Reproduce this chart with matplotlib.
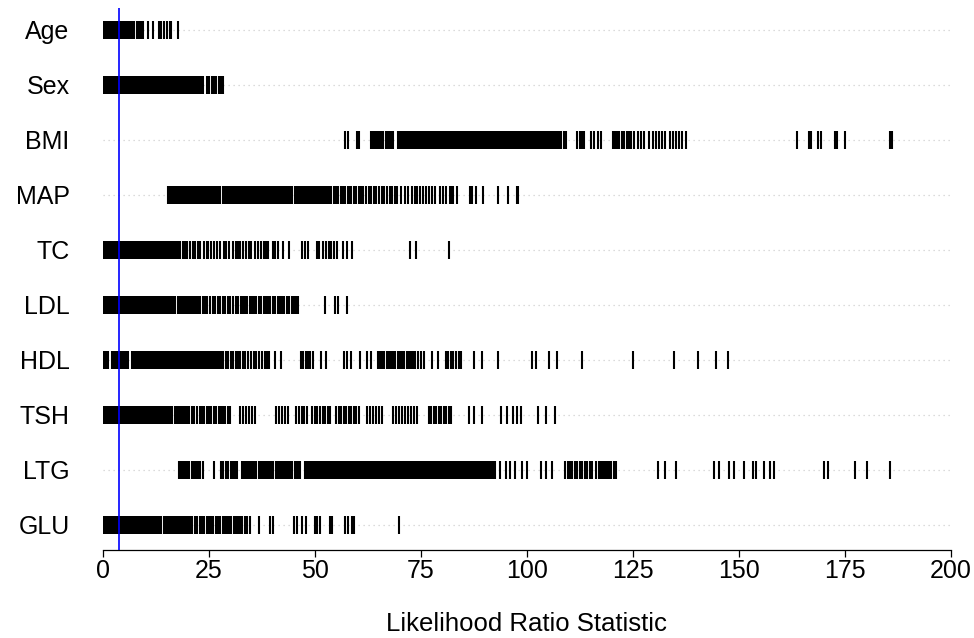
import numpy as np
import matplotlib
matplotlib.use("Agg")
import matplotlib.pyplot as plt

plt.rcParams["font.family"] = ["Liberation Sans", "DejaVu Sans"]

# likelihood ratio statistics per variable, one list per row
age = [0.1, 0.3, 0.5, 0.7, 0.9, 1.1, 1.3, 1.5, 1.8, 2.0, 2.2, 2.4, 2.7, 2.9, 3.1, 3.3, 3.6, 3.8,
       4.0, 4.2, 4.5, 4.7, 4.9, 5.2, 5.4, 5.6, 5.9, 6.1, 6.4, 6.9, 7.4, 8.0, 8.3, 8.7, 9.1, 9.4,
       10.7, 11.7, 13.3, 13.7, 14.4, 15.2, 15.8, 16.0, 17.6]
sex = [0.1, 0.4, 0.7, 1.1, 1.4, 1.8, 2.1, 2.5, 2.8, 3.2, 3.5, 3.9, 4.2, 4.6, 4.9, 5.3, 5.6, 6.0,
       6.3, 6.7, 7.0, 7.4, 7.7, 8.1, 8.4, 8.8, 9.1, 9.5, 9.8, 10.2, 10.5, 10.9, 11.2, 11.6, 11.9,
       12.3, 12.6, 13.0, 13.3, 13.7, 14.0, 14.4, 14.7, 15.1, 15.4, 15.8, 16.1, 16.5, 16.8, 17.2,
       17.5, 17.9, 18.2, 18.6, 18.9, 19.3, 19.6, 20.1, 20.4, 20.8, 21.1, 21.5, 21.8, 22.2, 22.5,
       22.9, 23.2, 23.7, 24.5, 25.1, 25.7, 26.2, 26.7, 27.3, 27.8, 28.4]
bmi = [57.2, 57.7, 59.9, 60.3, 63.3, 63.7, 64.2, 64.6, 65.1, 65.5, 66.0, 66.7, 67.2, 67.6, 68.1,
       68.5, 69.7, 70.1, 70.5, 70.9, 71.3, 71.6, 72.0, 72.4, 72.8, 73.2, 73.5, 73.9, 74.3, 74.7,
       75.1, 75.4, 75.8, 76.2, 76.6, 77.0, 77.3, 77.7, 78.1, 78.5, 78.9, 79.2, 79.6, 80.0, 80.4,
       80.8, 81.1, 81.5, 81.9, 82.3, 82.7, 83.0, 83.4, 83.8, 84.2, 84.6, 84.9, 85.3, 85.7, 86.1,
       86.5, 86.8, 87.2, 87.6, 88.0, 88.4, 88.7, 89.1, 89.5, 89.9, 90.3, 90.6, 91.0, 91.4, 91.8,
       92.2, 92.5, 92.9, 93.3, 93.7, 94.1, 94.4, 94.8, 95.2, 95.6, 96.0, 96.3, 96.7, 97.1, 97.5,
       97.9, 98.2, 98.6, 99.0, 99.4, 99.8, 100.1, 100.5, 100.9, 101.3, 101.7, 102.0, 102.4,
       102.8, 103.2, 103.6, 103.9, 104.3, 104.7, 105.1, 105.5, 105.8, 106.2, 106.6, 107.0,
       107.4, 107.7, 108.1, 108.7, 109.1, 111.9, 112.4, 112.9, 113.4, 115.2, 115.9, 116.7,
       117.5, 120.2, 120.7, 121.3, 121.8, 122.4, 122.9, 123.5, 124.0, 124.6, 125.2, 126.1,
       126.9, 127.6, 128.8, 129.7, 130.4, 131.2, 131.9, 132.5, 133.8, 134.4, 135.1, 135.8,
       136.5, 137.6, 163.6, 166.5, 166.9, 168.7, 169.4, 172.6, 173.1, 175.1, 185.7, 186.2]
map_ = [15.4, 15.8, 16.2, 16.6, 17.0, 17.4, 17.8, 18.2, 18.6, 19.0, 19.4, 19.8, 20.2, 20.6, 21.0,
        21.4, 21.8, 22.2, 22.6, 23.0, 23.4, 23.8, 24.2, 24.6, 25.0, 25.4, 25.8, 26.2, 26.6, 27.0,
        27.4, 27.7, 28.3, 28.7, 29.1, 29.5, 29.9, 30.3, 30.7, 31.1, 31.5, 31.9, 32.3, 32.7, 33.1,
        33.5, 33.9, 34.3, 34.7, 35.1, 35.5, 35.9, 36.3, 36.7, 37.1, 37.5, 37.9, 38.3, 38.7, 39.1,
        39.5, 39.9, 40.3, 40.7, 41.1, 41.5, 41.9, 42.3, 42.7, 43.1, 43.5, 43.9, 44.3, 44.7, 45.2,
        45.6, 46.1, 46.5, 47.0, 47.4, 47.9, 48.3, 48.8, 49.2, 49.7, 50.1, 50.6, 51.0, 51.5, 51.9,
        52.4, 52.8, 53.4, 53.9, 54.5, 55.0, 55.4, 56.1, 56.6, 57.0, 57.7, 58.2, 58.6, 59.3, 59.8,
        60.3, 60.9, 61.4, 62.0, 62.7, 63.2, 63.9, 64.5, 65.0, 65.8, 66.3, 67.0, 67.6, 68.2, 68.8,
        69.3, 70.4, 71.2, 71.9, 72.8, 73.6, 74.0, 74.7, 75.5, 76.1, 76.9, 77.6, 78.3, 79.6, 80.3,
        81.0, 81.8, 82.2, 82.6, 83.4, 86.6, 87.0, 88.1, 89.7, 93.2, 95.6, 97.6, 97.9]
tc = [0.1, 0.5, 0.9, 1.3, 1.7, 2.1, 2.5, 2.9, 3.3, 3.7, 4.1, 4.5, 4.9, 5.3, 5.7, 6.1, 6.5, 6.9,
      7.3, 7.7, 8.1, 8.5, 8.9, 9.3, 9.7, 10.1, 10.5, 10.9, 11.3, 11.7, 12.1, 12.5, 12.9, 13.3,
      13.7, 14.1, 14.5, 14.9, 15.3, 15.7, 16.1, 16.5, 16.9, 17.3, 17.7, 18.2, 18.8, 19.3, 19.9,
      20.6, 21.2, 21.7, 22.5, 23.0, 23.8, 24.5, 24.8, 25.4, 26.3, 27.0, 27.6, 28.5, 29.1, 29.8,
      30.6, 31.4, 31.9, 32.3, 33.1, 33.7, 34.4, 35.0, 35.8, 36.5, 37.2, 37.9, 38.5, 39.0, 40.0,
      40.6, 41.3, 42.5, 43.9, 47.0, 47.6, 48.4, 50.4, 51.0, 51.8, 52.5, 53.2, 53.9, 54.5, 55.1,
      56.7, 57.5, 58.7, 72.4, 73.8, 81.6]
ldl = [0.1, 0.5, 0.9, 1.3, 1.7, 2.1, 2.5, 2.9, 3.3, 3.7, 4.1, 4.5, 4.9, 5.3, 5.7, 6.1, 6.5, 6.9,
       7.3, 7.7, 8.1, 8.5, 8.9, 9.3, 9.7, 10.1, 10.5, 10.9, 11.3, 11.7, 12.2, 12.6, 13.1, 13.5,
       14.0, 14.4, 14.9, 15.3, 15.8, 16.2, 16.7, 17.1, 17.6, 18.0, 18.5, 18.9, 19.4, 19.8, 20.3,
       20.7, 21.2, 21.6, 22.1, 22.5, 22.9, 23.5, 24.1, 24.6, 25.3, 25.9, 26.4, 27.1, 27.7, 28.2,
       28.9, 29.5, 30.0, 30.7, 31.3, 31.8, 32.5, 33.1, 33.5, 34.0, 34.6, 35.1, 35.7, 36.2, 36.8,
       37.3, 37.9, 38.4, 39.0, 39.5, 40.1, 40.6, 41.2, 41.7, 42.3, 42.8, 43.4, 43.9, 44.5, 45.0,
       45.6, 46.1, 52.4, 54.7, 55.5, 57.5]
hdl = [0.1, 0.5, 0.9, 1.3, 2.2, 2.6, 3.0, 3.4, 3.8, 4.2, 4.6, 5.0, 5.4, 5.8, 6.9, 7.3, 7.7, 8.1,
       8.5, 8.9, 9.3, 9.7, 10.1, 10.5, 10.9, 11.3, 11.7, 12.1, 12.5, 12.9, 13.3, 13.7, 14.1, 14.5,
       14.9, 15.3, 15.7, 16.1, 16.5, 16.9, 17.3, 17.7, 18.1, 18.5, 18.9, 19.3, 19.7, 20.1, 20.5,
       20.9, 21.3, 21.7, 22.1, 22.5, 22.9, 23.3, 23.7, 24.1, 24.5, 24.9, 25.3, 25.7, 26.1, 26.5,
       26.9, 27.3, 27.8, 28.4, 29.0, 29.5, 30.1, 30.7, 31.3, 31.8, 32.4, 33.0, 33.5, 34.1, 35.0,
       35.6, 36.2, 36.9, 37.5, 38.2, 38.6, 39.1, 40.5, 42.0, 46.6, 47.2, 47.8, 48.3, 48.9, 49.5,
       51.4, 52.7, 56.8, 57.6, 58.6, 60.6, 62.2, 63.2, 64.8, 65.3, 65.8, 66.4, 66.9, 67.4, 67.9,
       68.5, 69.0, 69.5, 70.0, 70.6, 71.1, 71.6, 72.1, 72.6, 73.1, 73.6, 74.3, 75.0, 75.8, 77.7,
       79.0, 80.8, 81.4, 82.0, 82.6, 83.2, 83.9, 84.5, 87.6, 89.5, 93.1, 101.3, 102.2, 105.3,
       107.1, 113.0, 124.9, 134.7, 140.4, 144.7, 147.5]
tsh = [0.1, 0.5, 0.9, 1.3, 1.7, 2.1, 2.5, 2.9, 3.3, 3.7, 4.1, 4.5, 4.9, 5.3, 5.7, 6.1, 6.5, 6.9,
       7.3, 7.7, 8.1, 8.5, 8.9, 9.3, 9.7, 10.1, 10.5, 10.9, 11.3, 11.7, 12.1, 12.5, 12.9, 13.3,
       13.7, 14.1, 14.5, 14.9, 15.4, 15.9, 16.4, 16.9, 17.4, 17.9, 18.4, 18.9, 19.4, 19.9, 20.4,
       20.9, 21.4, 22.3, 22.8, 23.4, 23.9, 24.5, 25.0, 25.6, 26.1, 26.7, 27.3, 27.8, 28.4, 28.9,
       29.5, 30.0, 32.3, 33.0, 33.7, 34.4, 35.2, 35.9, 40.9, 41.6, 42.3, 43.0, 43.6, 45.6, 46.2,
       46.9, 47.5, 48.2, 49.4, 50.0, 50.6, 51.2, 51.8, 52.4, 53.0, 53.6, 55.0, 55.6, 56.2, 56.8,
       57.4, 58.0, 58.6, 59.2, 59.8, 60.4, 62.2, 62.9, 63.7, 64.4, 65.2, 65.9, 68.4, 69.1, 69.8,
       70.5, 71.2, 71.9, 72.6, 73.3, 74.0, 76.8, 77.4, 78.0, 78.6, 79.2, 79.8, 80.4, 81.0, 81.6,
       82.2, 86.3, 87.6, 89.3, 94.0, 95.4, 96.7, 97.6, 98.5, 102.6, 104.4, 106.7]
ltg = [17.9, 18.4, 18.9, 19.4, 19.9, 20.4, 20.9, 21.4, 21.9, 22.4, 22.9, 23.5, 26.1, 27.9, 28.4,
       29.0, 29.5, 30.1, 30.6, 31.2, 31.7, 32.7, 33.2, 33.7, 34.2, 34.7, 35.2, 35.7, 36.2, 36.7,
       37.2, 37.7, 38.2, 38.7, 39.2, 39.7, 40.2, 40.7, 41.2, 41.7, 42.2, 42.7, 43.2, 43.7, 44.2,
       44.7, 45.2, 45.7, 46.2, 46.5, 47.6, 48.0, 48.4, 48.8, 49.2, 49.6, 50.0, 50.4, 50.8, 51.2,
       51.6, 52.0, 52.4, 52.8, 53.2, 53.6, 54.0, 54.4, 54.8, 55.2, 55.6, 56.0, 56.4, 56.8, 57.2,
       57.6, 58.0, 58.4, 58.8, 59.2, 59.6, 60.0, 60.4, 60.8, 61.2, 61.6, 62.0, 62.4, 62.8, 63.2,
       63.6, 64.0, 64.4, 64.8, 65.3, 65.9, 66.3, 66.7, 67.1, 67.5, 67.9, 68.3, 68.7, 69.1, 69.5,
       69.9, 70.3, 70.7, 71.1, 71.5, 71.9, 72.3, 72.7, 73.1, 73.5, 73.9, 74.3, 74.7, 75.1, 75.5,
       75.9, 76.3, 76.7, 77.1, 77.5, 77.9, 78.3, 78.7, 79.1, 79.5, 79.9, 80.3, 80.7, 81.1, 81.5,
       81.9, 82.3, 82.7, 83.1, 83.5, 83.9, 84.3, 84.7, 85.1, 85.5, 85.9, 86.3, 86.7, 87.1, 87.5,
       87.9, 88.3, 88.7, 89.1, 89.5, 89.9, 90.3, 90.7, 91.1, 91.5, 91.9, 92.5, 93.6, 95.0, 96.0,
       97.2, 98.9, 100.1, 103.4, 104.6, 106.0, 109.0, 109.6, 110.1, 110.7, 111.3, 111.9, 112.4,
       113.0, 113.6, 114.2, 114.8, 115.4, 116.4, 116.9, 117.4, 117.9, 118.4, 118.9, 119.4,
       119.9, 120.5, 121.0, 130.8, 132.5, 135.1, 144.1, 145.3, 147.6, 148.8, 151.1, 153.4,
       154.0, 155.9, 157.3, 158.3, 170.0, 171.1, 177.4, 180.3, 185.6]
glu = [0.1, 0.5, 0.9, 1.3, 1.7, 2.1, 2.5, 2.9, 3.3, 3.7, 4.1, 4.5, 4.9, 5.3, 5.7, 6.1, 6.5, 6.9,
       7.3, 7.7, 8.1, 8.5, 8.9, 9.3, 9.7, 10.1, 10.5, 10.9, 11.3, 11.7, 12.1, 12.5, 12.9, 13.3,
       13.8, 14.3, 14.8, 15.3, 15.8, 16.2, 16.7, 17.2, 17.7, 18.2, 18.7, 19.1, 19.6, 20.1, 20.6,
       21.1, 21.6, 22.1, 22.9, 23.4, 23.9, 24.5, 25.0, 25.5, 26.0, 26.6, 27.1, 27.6, 28.2, 28.7,
       29.2, 29.8, 30.3, 30.8, 31.4, 31.9, 32.4, 32.9, 33.4, 33.9, 34.7, 36.8, 39.4, 40.0, 45.0,
       45.7, 47.0, 47.8, 50.0, 50.6, 51.2, 53.5, 54.1, 57.1, 57.9, 58.7, 59.3, 69.8]

labels = ["Age", "Sex", "BMI", "MAP", "TC", "LDL", "HDL", "TSH", "LTG", "GLU"]
series = [age, sex, bmi, map_, tc, ldl, hdl, tsh, ltg, glu]
crit = 3.84  # chi-square(1) 95% cutoff

fig = plt.figure(figsize=(9.74, 6.38), dpi=100)
ax = fig.add_axes([0.1057, 0.138, 0.8706, 0.8495])

ypos = np.arange(len(labels), 0, -1)
ax.hlines(ypos, 0, 200, colors="#d0d0d0", linestyles=(0, (1, 3)), linewidth=0.9, zorder=0)
for y, vals in zip(ypos, series):
    ax.plot(vals, np.full(len(vals), y), ls="none", marker="|", ms=13.5, mew=1.5,
            color="black", zorder=2)
ax.axvline(crit, color="#0000ff", linewidth=1.2, zorder=3)

ax.set_xlim(0, 200)
ax.set_ylim(0.545, 10.4)
ax.set_xticks(np.arange(0, 201, 25))
ax.set_yticks(ypos)
ax.set_yticklabels(labels)
ax.tick_params(axis="y", length=0, pad=24, labelsize=18)
ax.tick_params(axis="x", length=5, width=0.9, pad=1.5, labelsize=18)
for s in ["top", "right", "left"]:
    ax.spines[s].set_visible(False)
ax.spines["bottom"].set_linewidth(0.9)
ax.set_xlabel("Likelihood Ratio Statistic", fontsize=18.5, labelpad=21)

fig.savefig("out.png", dpi=100)
